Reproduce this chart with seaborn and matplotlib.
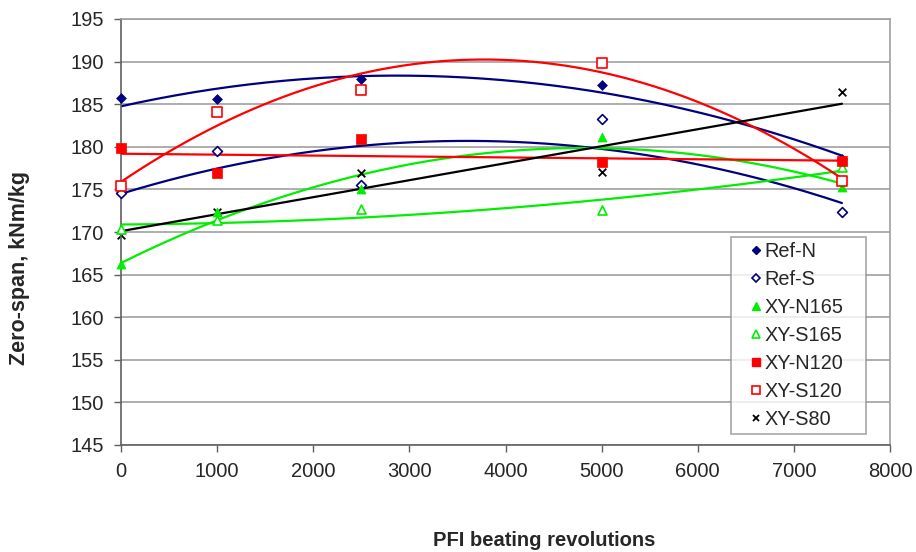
import numpy as np
import pandas as pd
import matplotlib
matplotlib.use("Agg")
import matplotlib.pyplot as plt
import seaborn as sns
from matplotlib.lines import Line2D

revs = [0, 1000, 2500, 5000, 7500]
ref_n = [185.7, 185.6, 188.0, 187.3, 178.6]
ref_s = [174.6, 179.5, 175.5, 183.3, 172.3]
xy_n165 = [166.3, 172.3, 175.0, 181.1, 175.3]
xy_s165 = [170.3, 171.4, 172.7, 172.6, 177.6]
xy_n120 = [179.9, 176.9, 180.9, 178.2, 178.3]
xy_s120 = [175.4, 184.1, 186.7, 189.8, 176.0]
xy_s80 = [169.7, 172.3, 176.9, 177.1, 186.4]

series = [
    ("Ref-N", ref_n, 2),
    ("Ref-S", ref_s, 2),
    ("XY-N165", xy_n165, 2),
    ("XY-S165", xy_s165, 2),
    ("XY-N120", xy_n120, 1),
    ("XY-S120", xy_s120, 2),
    ("XY-S80", xy_s80, 1),
]

styles = {
    "Ref-N": dict(marker="D", color="#000080", fill=True, size=5),
    "Ref-S": dict(marker="D", color="#000080", fill=False, size=5),
    "XY-N165": dict(marker="^", color="#00EE00", fill=True, size=6.5),
    "XY-S165": dict(marker="^", color="#00EE00", fill=False, size=6.5),
    "XY-N120": dict(marker="s", color="#FF0000", fill=True, size=6.5),
    "XY-S120": dict(marker="s", color="#FF0000", fill=False, size=6.5),
    "XY-S80": dict(marker="x", color="#000000", fill=True, size=5.5),
}

sns.set_theme(style="white")
plt.rcParams["font.family"] = ["Liberation Sans", "DejaVu Sans"]

fig = plt.figure(figsize=(9.16, 5.52), dpi=100)
ax = fig.add_axes([121/916, 1-445/552, (890-121)/916, (445-19)/552])

xs = np.linspace(0, 7500, 200)
for name, vals, deg in series:
    st = styles[name]
    coef = np.polyfit(revs, vals, deg)
    fit = pd.DataFrame({"x": xs, "y": np.polyval(coef, xs)})
    sns.lineplot(data=fit, x="x", y="y", ax=ax, color=st["color"], lw=1.6, zorder=2)

handles = []
for name, vals, deg in series:
    st = styles[name]
    df = pd.DataFrame({"x": revs, "y": vals})
    if st["marker"] == "x":
        kw = dict(color=st["color"], linewidths=1.3)
        hk = dict(color=st["color"], markeredgewidth=1.3)
    elif st["fill"]:
        kw = dict(color=st["color"], edgecolor=st["color"], linewidth=0.5)
        hk = dict(markerfacecolor=st["color"], markeredgecolor=st["color"])
    else:
        kw = dict(facecolor="white", edgecolor=st["color"], linewidth=1.2)
        hk = dict(markerfacecolor="white", markeredgecolor=st["color"], markeredgewidth=1.2)
    z = 2.5 if name == "XY-S80" else 3
    sns.scatterplot(data=df, x="x", y="y", ax=ax, marker=st["marker"],
                    s=st["size"]**2, zorder=z, clip_on=False, **kw)
    handles.append(Line2D([], [], ls="none", marker=st["marker"],
                          markersize=st["size"]*0.85, label=name, **hk))

ax.set_xlim(0, 8000)
ax.set_ylim(145, 195)
ax.set_xticks(np.arange(0, 8001, 1000))
ax.set_yticks(np.arange(145, 196, 5))
ax.yaxis.grid(True, color="#a0a0a0", lw=1.2)
ax.xaxis.grid(False)
ax.set_axisbelow(True)
ax.set_xlabel("")
ax.set_ylabel("")
for s in ["left", "bottom"]:
    ax.spines[s].set_color("#606060")
    ax.spines[s].set_linewidth(1.2)
for s in ["top", "right"]:
    ax.spines[s].set_color("#a0a0a0")
    ax.spines[s].set_linewidth(1.2)
ax.tick_params(axis="both", which="major", direction="out", length=5, width=1,
               color="#606060", labelsize=14.5, pad=7, bottom=True, left=True)

lx0, ly1, lx1, ly0 = 731/916, 1-237/552, 866/916, 1-433/552
leg = ax.legend(handles=handles, loc="upper left",
                bbox_to_anchor=(lx0, ly0, lx1-lx0, ly1-ly0), mode="expand",
                bbox_transform=fig.transFigure,
                borderaxespad=0, fontsize=14.3, frameon=True, fancybox=False,
                edgecolor="#909090", handlelength=2.0, handletextpad=-0.55,
                labelspacing=0.455, borderpad=0.25)
leg.get_frame().set_linewidth(1.2)

fig.text(20/916, 1-268/552, "Zero-span, kNm/kg", rotation=90, ha="center",
         va="center", fontsize=15.5, fontweight="bold")
fig.text(433/916, 1-541/552, "PFI beating revolutions", ha="left",
         va="center", fontsize=14.5, fontweight="bold")

fig.savefig("out.png", dpi=100)
